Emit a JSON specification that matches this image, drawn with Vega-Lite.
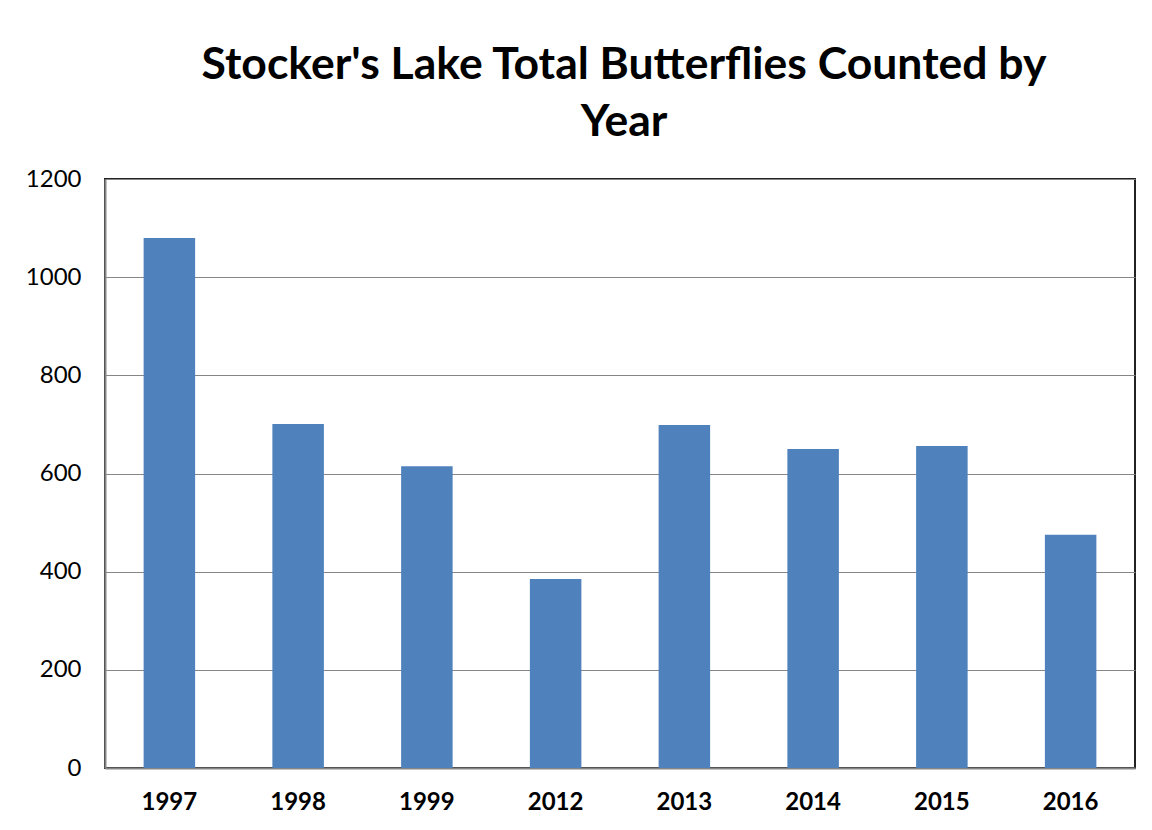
{
  "$schema": "https://vega.github.io/schema/vega-lite/v6.json",
  "width": 1030,
  "height": 589,
  "autosize": {"type": "none"},
  "padding": {"left": 105, "top": 179, "right": 17, "bottom": 62},
  "background": "white",
  "title": {
    "text": ["Stocker's Lake Total Butterflies Counted by", "Year"],
    "font": "Lato",
    "fontSize": 44.5,
    "fontWeight": "bold",
    "color": "black",
    "anchor": "middle",
    "lineHeight": 57,
    "offset": 22,
    "dx": 4
  },
  "data": {
    "values": [
      {"year": "1997", "count": 1080},
      {"year": "1998", "count": 701},
      {"year": "1999", "count": 615},
      {"year": "2012", "count": 385},
      {"year": "2013", "count": 699},
      {"year": "2014", "count": 650},
      {"year": "2015", "count": 656},
      {"year": "2016", "count": 475}
    ]
  },
  "mark": {"type": "bar", "color": "#4F81BD"},
  "encoding": {
    "x": {
      "field": "year",
      "type": "nominal",
      "sort": null,
      "scale": {"paddingInner": 0.6, "paddingOuter": 0.3},
      "axis": {
        "title": null,
        "labelAngle": 0,
        "labelFont": "Lato",
        "labelFontSize": 24,
        "labelFontWeight": "bold",
        "labelColor": "black",
        "labelPadding": 22,
        "ticks": false,
        "domainColor": "#868686",
        "domainWidth": 2
      }
    },
    "y": {
      "field": "count",
      "type": "quantitative",
      "scale": {"domain": [0, 1200]},
      "axis": {
        "title": null,
        "values": [0, 200, 400, 600, 800, 1000, 1200],
        "format": "d",
        "labelFont": "Lato",
        "labelFontSize": 24,
        "labelColor": "black",
        "labelPadding": 24,
        "ticks": false,
        "grid": true,
        "gridColor": "#868686",
        "gridWidth": 1.2,
        "domainColor": "#868686",
        "domainWidth": 2
      }
    }
  },
  "config": {
    "view": {"stroke": "#222222", "strokeWidth": 2}
  }
}
